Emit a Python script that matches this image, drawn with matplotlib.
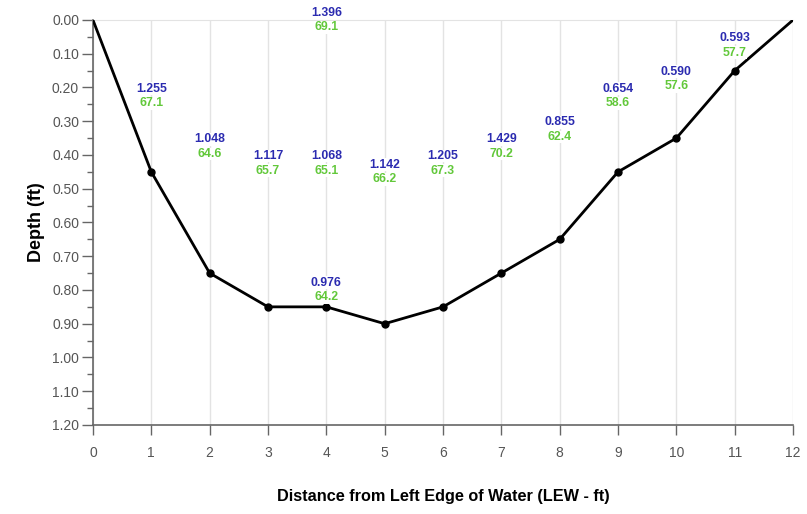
import matplotlib.pyplot as plt
from matplotlib.ticker import MultipleLocator, FormatStrFormatter

plt.rcParams['font.family'] = ['Liberation Sans', 'DejaVu Sans']

# channel profile
distance = [0, 1, 2, 3, 4, 5, 6, 7, 8, 9, 10, 11, 12]
depth = [0.0, 0.45, 0.75, 0.85, 0.85, 0.90, 0.85, 0.75, 0.65, 0.45, 0.35, 0.15, 0.0]

# measurement labels: station, depth of reading, velocity, temperature
lab_x = [1, 2, 3, 4, 4, 4, 5, 6, 7, 8, 9, 10, 11]
lab_depth = [0.225, 0.375, 0.425, 0.0, 0.425, 0.80, 0.45, 0.425, 0.375, 0.325, 0.225, 0.175, 0.075]
velocity = ['1.255', '1.048', '1.117', '1.396', '1.068', '0.976', '1.142', '1.205',
            '1.429', '0.855', '0.654', '0.590', '0.593']
temperature = ['67.1', '64.6', '65.7', '69.1', '65.1', '64.2', '66.2', '67.3',
               '70.2', '62.4', '58.6', '57.6', '57.7']

fig = plt.figure(figsize=(8.07, 5.14), dpi=100)
ax = fig.add_axes([0.1152, 0.1732, 0.8675, 0.7879])

ax.plot(distance, depth, color='black', lw=2, zorder=3)
ax.plot(distance[1:-1], depth[1:-1], 'o', color='black', ms=5, zorder=4)

for x, d, v, t in zip(lab_x, lab_depth, velocity, temperature):
    ax.text(x, d - 0.004, v, color='#2b2bb0', fontsize=8.8, ha='center', va='bottom',
            fontweight='semibold', zorder=5,
            bbox=dict(facecolor='white', edgecolor='none', pad=0.3))
    ax.text(x, d + 0.004, t, color='#62c83a', fontsize=8.8, ha='center', va='top',
            fontweight='semibold', zorder=5,
            bbox=dict(facecolor='white', edgecolor='none', pad=0.3))

ax.set_xlim(0, 12)
ax.set_ylim(1.2, 0.0)
ax.xaxis.set_major_locator(MultipleLocator(1))
ax.yaxis.set_major_locator(MultipleLocator(0.1))
ax.yaxis.set_minor_locator(MultipleLocator(0.05))
ax.yaxis.set_major_formatter(FormatStrFormatter('%.2f'))

ax.grid(axis='x', color='#e3e3e3', lw=1, zorder=0)
ax.spines['right'].set_visible(False)
ax.spines['top'].set_color('#e3e3e3')
ax.spines['left'].set_color('#666666')
ax.spines['bottom'].set_color('#666666')
ax.spines['left'].set_linewidth(1.2)
ax.spines['bottom'].set_linewidth(1.2)

ax.tick_params(axis='y', which='major', length=8, width=1, color='#666666',
               labelsize=10, labelcolor='#555555', pad=2)
ax.tick_params(axis='y', which='minor', length=4, width=1, color='#666666')
ax.tick_params(axis='x', which='major', length=7, width=1, color='#666666',
               labelsize=10, labelcolor='#555555', pad=8)

ax.set_ylabel('Depth (ft)', fontsize=13, fontweight='bold', labelpad=5)
ax.set_xlabel('Distance from Left Edge of Water (LEW - ft)', fontsize=11.7,
              fontweight='bold', labelpad=21)

fig.savefig('out.png', dpi=100)
